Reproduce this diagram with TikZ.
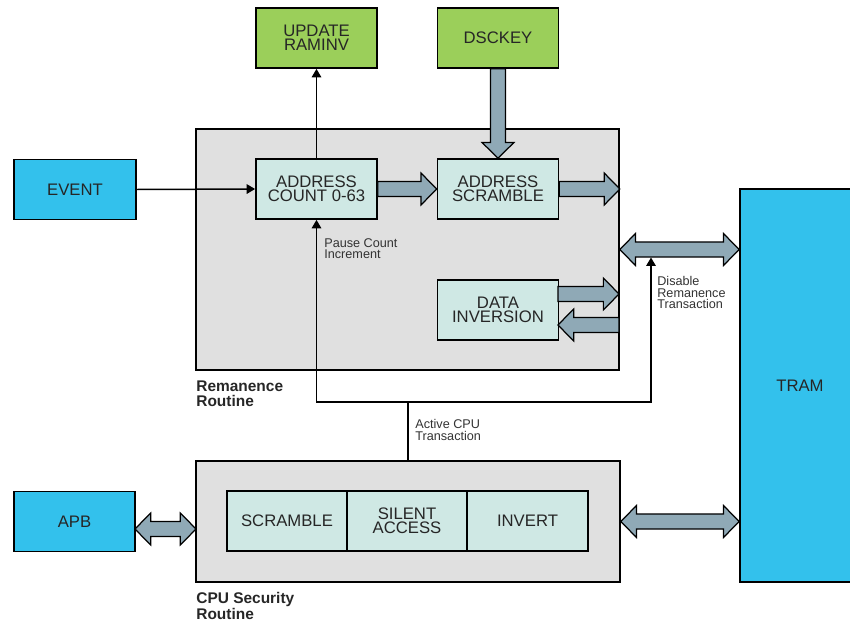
\documentclass[tikz,border=0pt]{standalone}
\usepackage{fontspec}
\setsansfont{Liberation Sans}
\usepackage{tikz}
\usetikzlibrary{arrows.meta,calc}

\definecolor{tramblue}{HTML}{33C1EC}
\definecolor{keygreen}{HTML}{9BCF5A}
\definecolor{blockteal}{HTML}{CFE8E4}
\definecolor{routinegray}{HTML}{E0E0E0}
\definecolor{busfill}{HTML}{8FA9B6}

\newcommand{\blocktext}{\sffamily\fontsize{9.5}{8}\selectfont}
\newcommand{\notetext}{\sffamily\fontsize{7.2}{6.6}\selectfont}
\newcommand{\routinetext}{\sffamily\bfseries\fontsize{8.8}{8}\selectfont}

\tikzset{
  block/.style={draw=black, line width=1pt, minimum width=2.42cm, minimum height=1.2cm,
    inner sep=0pt, align=center, font=\blocktext, text=black!85},
  routine/.style={draw=black, line width=1pt, fill=routinegray, inner sep=0pt},
  title/.style={anchor=north west, align=left, inner sep=0pt, font=\routinetext, text=black!85},
  note/.style={anchor=north west, align=left, inner sep=0pt, font=\notetext, text=black!80},
  signal/.style={-{Triangle[length=4.8pt,width=5.4pt]}, line width=0.85pt},
  % fat one-way bus arrow
  bus/.style={draw=black, line width=0.7pt, fill=busfill, to path={
    let \p1=($(\tikztotarget)!8.9pt!(\tikztostart)$) in
    (\tikztostart) -- ($(\tikztostart)!4.3pt!90:(\tikztotarget)$)
    -- ($(\p1)!4.3pt!-90:(\tikztostart)$) -- ($(\p1)!9.1pt!-90:(\tikztostart)$)
    -- (\tikztotarget)
    -- ($(\p1)!9.1pt!90:(\tikztostart)$) -- ($(\p1)!4.3pt!90:(\tikztostart)$)
    -- ($(\tikztostart)!4.3pt!-90:(\tikztotarget)$) -- cycle}},
  % fat two-way bus arrow
  duplex/.style={draw=black, line width=0.7pt, fill=busfill, to path={
    let \p1=($(\tikztostart)!8.9pt!(\tikztotarget)$), \p2=($(\tikztotarget)!8.9pt!(\tikztostart)$) in
    (\tikztostart) -- ($(\p1)!9.1pt!90:(\tikztotarget)$) -- ($(\p1)!4.3pt!90:(\tikztotarget)$)
    -- ($(\p2)!4.3pt!-90:(\tikztostart)$) -- ($(\p2)!9.1pt!-90:(\tikztostart)$)
    -- (\tikztotarget)
    -- ($(\p2)!9.1pt!90:(\tikztostart)$) -- ($(\p2)!4.3pt!90:(\tikztostart)$)
    -- ($(\p1)!4.3pt!-90:(\tikztotarget)$) -- ($(\p1)!9.1pt!-90:(\tikztotarget)$) -- cycle}}
}

\begin{document}
\begin{tikzpicture}[x=0.02cm, y=-0.02cm]
  \useasboundingbox (0,0) rectangle (850,622);

  % routine frames
  \node[routine, minimum width=8.46cm, minimum height=4.82cm] (rem) at (407.5,249.5) {};
  \node[routine, minimum width=8.48cm, minimum height=2.42cm] (cpu) at (408,521.5) {};
  \node[title] (remtitle) at (196,381) {Remanence\\Routine};
  \node[title] (cputitle) at (196,592) {CPU Security\\Routine};

  % blocks
  \node[block, fill=tramblue, minimum width=2.44cm] (event) at (75,189.5) {EVENT};
  \node[block, fill=keygreen] (upd) at (316.5,38) {UPDATE\\RAMINV};
  \node[block, fill=keygreen] (dsc) at (498,38) {DSCKEY};
  \node[block, fill=blockteal] (count) at (316.5,189) {ADDRESS\\COUNT 0-63};
  \node[block, fill=blockteal] (scr) at (498,189) {ADDRESS\\SCRAMBLE};
  \node[block, fill=blockteal] (inv) at (498,310) {DATA\\INVERSION};
  \node[block, fill=tramblue, minimum width=2.4cm, minimum height=7.86cm] (tram) at (800,385.5) {TRAM};
  \node[block, fill=tramblue, minimum width=2.42cm] (apb) at (74.5,521.5) {APB};
  \node[block, fill=blockteal, minimum width=2.4cm] (cscr) at (287,521) {SCRAMBLE};
  \node[block, fill=blockteal, minimum width=2.4cm] (silent) at (407,521) {SILENT\\ACCESS};
  \node[block, fill=blockteal, minimum width=2.42cm] (cinv) at (527.5,521) {INVERT};

  % bus ends
  \coordinate (scrout) at (scr.east -| rem.east);
  \coordinate (invout) at (558,294);
  \coordinate (invoutr) at (619,294);
  \coordinate (invin) at (558,325);
  \coordinate (invinr) at (619,325);
  \coordinate (remport) at (rem.east -| tram.west);
  \coordinate (apbl) at (135,529);
  \coordinate (apbr) at (196,529);
  \coordinate (cpuport) at (cpu.east -| tram.west);

  \draw[bus] (dsc.south) to (scr.north);
  \draw[bus] (count.east) to (scr.west);
  \draw[bus] (scr.east) to (scrout);
  \draw[bus] (invout) to (invoutr);
  \draw[bus] (invinr) to (invin);
  \draw[duplex] (rem.east) to (remport);
  \draw[duplex] (apbl) to (apbr);
  \draw[duplex] (cpu.east) to (cpuport);

  % control lines
  \coordinate (fork) at (408,402);
  \coordinate (disable) at (651,257.5);
  \draw[signal] (event.east) -- (count.west);
  \draw[signal] (count.north) -- (upd.south);
  \draw[line width=0.85pt] (cpu.north) -- (fork);
  \draw[signal] (fork) -| (count.south);
  \draw[signal] (fork) -| (disable);

  \node[note] (pause) at (324,238) {Pause Count\\Increment};
  \node[note] (dis) at (657,276) {Disable\\Remanence\\Transaction};
  \node[note] (act) at (415,419) {Active CPU\\Transaction};
\end{tikzpicture}
\end{document}
